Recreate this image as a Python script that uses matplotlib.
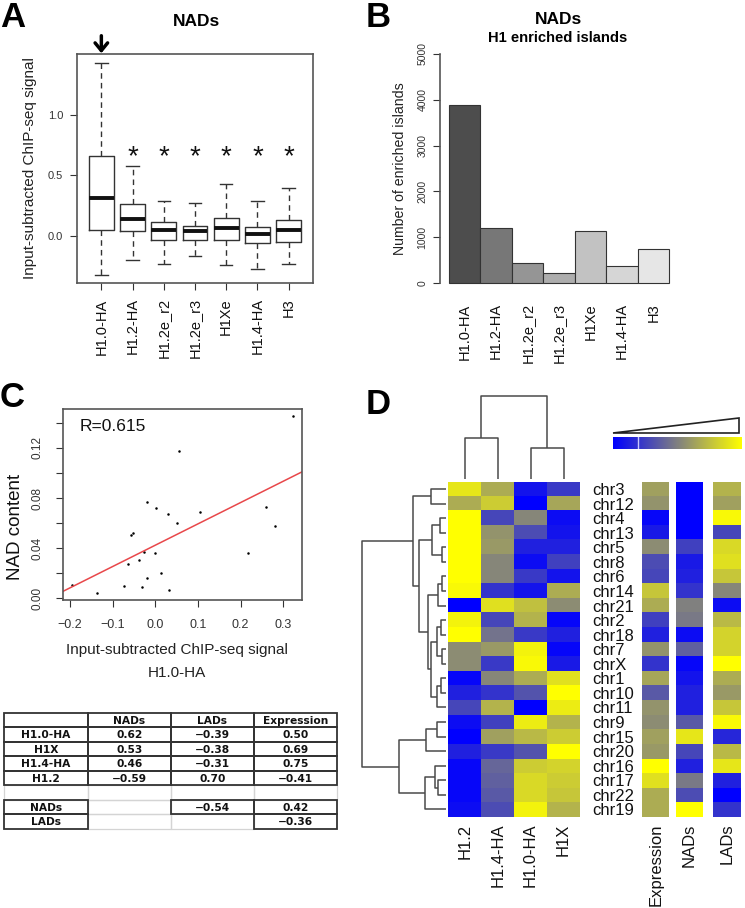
import numpy as np
import matplotlib
matplotlib.use('Agg')
import matplotlib.pyplot as plt
from matplotlib.colors import LinearSegmentedColormap
from matplotlib.patches import Rectangle, Polygon

plt.rcParams['font.family'] = ['Liberation Sans', 'DejaVu Sans']

W, H = 745, 908


def box(l, t, r, b):
    # pixel box -> figure fraction
    return [l / W, 1 - b / H, (r - l) / W, (b - t) / H]


def fx(x):
    return x / W


def fy(y):
    return 1 - y / H


# ---------------- data ----------------
samples = ['H1.0-HA', 'H1.2-HA', 'H1.2e_r2', 'H1.2e_r3', 'H1Xe', 'H1.4-HA', 'H3']
box_whislo = [-0.32, -0.20, -0.23, -0.17, -0.245, -0.275, -0.234]
box_q1 = [0.05, 0.04, -0.036, -0.036, -0.033, -0.063, -0.047]
box_med = [0.31, 0.143, 0.052, 0.036, 0.066, 0.019, 0.047]
box_q3 = [0.66, 0.26, 0.113, 0.085, 0.15, 0.077, 0.135]
box_whishi = [1.43, 0.58, 0.29, 0.27, 0.43, 0.287, 0.397]
significant = [False, True, True, True, True, True, True]

islands = [3880, 1200, 440, 220, 1130, 380, 750]
bar_colors = ['#4d4d4d', '#777777', '#959595', '#adadad', '#c2c2c2', '#d6d6d6', '#e6e6e6']

h10_signal = [-0.1945, -0.136, -0.0734, -0.065, -0.058, -0.0523, -0.039, -0.031,
              -0.0258, -0.0187, -0.0187, -0.0016, 0.0016, 0.0133, 0.0305, 0.0328,
              0.0516, 0.0547, 0.1055, 0.2164, 0.2594, 0.281, 0.3226]
nad_content = [0.0108, 0.0042, 0.010, 0.0274, 0.0503, 0.052, 0.031, 0.0092,
               0.0374, 0.0163, 0.0771, 0.0363, 0.0724, 0.020, 0.0676, 0.0066,
               0.060, 0.1176, 0.069, 0.0363, 0.0732, 0.0579, 0.1455]
r_value = 0.615

table_cols = ['', 'NADs', 'LADs', 'Expression']
table_rows = ['H1.0-HA', 'H1X', 'H1.4-HA', 'H1.2', '', 'NADs', 'LADs']
table_vals = [['0.62', '\u22120.39', '0.50'],
              ['0.53', '\u22120.38', '0.69'],
              ['0.46', '\u22120.31', '0.75'],
              ['\u22120.59', '0.70', '\u22120.41'],
              ['', '', ''],
              ['', '\u22120.54', '0.42'],
              ['', '', '\u22120.36']]

chroms = ['chr3', 'chr12', 'chr4', 'chr13', 'chr5', 'chr8', 'chr6', 'chr14', 'chr21',
          'chr2', 'chr18', 'chr7', 'chrX', 'chr1', 'chr10', 'chr11', 'chr9', 'chr15',
          'chr20', 'chr16', 'chr17', 'chr22', 'chr19']
heat_cols = ['H1.2', 'H1.4-HA', 'H1.0-HA', 'H1X']
h1_2 = [0.8, 0.35, 1.0, 1.0, 1.0, 1.0, 1.0, 0.95, -1.0, 0.9, 1.0, 0.1, 0.1,
        -0.95, -0.75, -0.45, -0.9, -1.0, -0.75, -0.95, -0.95, -0.95, -0.9]
h1_4 = [0.35, 0.6, -0.45, 0.15, 0.2, 0.05, 0.05, -0.6, 0.75, -0.45, -0.1, 0.2, -0.55,
        0.05, -0.6, 0.4, -0.5, 0.25, -0.55, -0.2, -0.25, -0.3, -0.4]
h1_0 = [-0.85, -1.0, 0.05, -0.4, -0.75, -0.9, -0.55, -0.85, 0.5, 0.4, -0.55, 0.9, 0.95,
        0.35, -0.35, -1.0, 0.85, 0.45, -0.35, 0.6, 0.7, 0.7, 0.9]
h1x = [-0.55, 0.3, -0.9, -0.85, -0.75, -0.5, -0.85, 0.35, 0.1, -0.95, -0.75, -0.95, -0.8,
       0.75, 1.0, 0.85, 0.4, 0.6, 1.0, 0.65, 0.6, 0.55, 0.4]
side_cols = ['Expression', 'NADs', 'LADs']
expression = [0.25, 0.15, -0.95, -0.8, 0.1, -0.4, -0.45, 0.55, 0.35, -0.5, -0.75, 0.15,
              -0.6, 0.3, -0.3, 0.15, 0.1, 0.25, 0.2, 1.0, 0.75, 0.35, 0.35]
nads = [-1.0, -1.0, -1.0, -1.0, -0.5, -0.8, -0.75, -0.6, 0.0, -0.05, -0.9, -0.25, -0.95,
        -0.85, -0.75, -0.75, -0.3, 0.8, -0.45, -0.75, -0.05, -0.4, 1.0]
lads = [0.4, 0.25, 0.95, -0.45, 0.7, 0.75, 0.55, 0.05, -0.9, 0.45, 0.65, 0.65, 1.0,
        0.35, 0.2, 0.55, 0.95, -0.7, 0.45, 0.8, -0.75, -1.0, -0.6]

# dendrograms: (left, right, merge height)
row_tree = (
    (('chr3', 'chr12', 15.3),
     ((('chr4', 'chr13', 6), ('chr5', 'chr8', 4.3), 14.3),
      ((('chr6', 'chr14', 4.3), 'chr21', 8.3),
       ((('chr2', 'chr18', 5), ('chr7', 'chrX', 4.3), 9.3),
        (('chr1', 'chr10', 5), 'chr11', 9.3), 15), 17.7), 27.5), 32.7),
    ((('chr9', 'chr15', 9.3), 'chr20', 20),
     (('chr16', ('chr17', 'chr22', 7.7), 11), 'chr19', 21), 47),
    83.7)
col_tree = (('H1.2', 'H1.4-HA', 41.3), ('H1.0-HA', 'H1X', 31.3), 83.3)

fig = plt.figure(figsize=(W / 100, H / 100), dpi=100)

line_c = '#333333'
tick_c = '#333333'

# ---------------- A: boxplot ----------------
axA = fig.add_axes(box(77, 54, 313, 283))
stats = []
for i in range(len(samples)):
    stats.append(dict(med=box_med[i], q1=box_q1[i], q3=box_q3[i],
                      whislo=box_whislo[i], whishi=box_whishi[i], fliers=[]))
axA.bxp(stats, positions=range(1, len(samples) + 1), widths=0.8, showfliers=False,
        capwidths=0.4,
        boxprops=dict(color=line_c, lw=1),
        whiskerprops=dict(color=line_c, lw=1, linestyle=(0, (4, 3))),
        capprops=dict(color=line_c, lw=1),
        medianprops=dict(color='#111111', lw=2.8, solid_capstyle='butt'))
axA.set_xlim(0.22, 7.78)
axA.set_ylim(-0.39, 1.504)
axA.set_yticks([0.0, 0.5, 1.0])
axA.set_yticklabels(['0.0', '0.5', '1.0'])
axA.set_xticks(range(1, len(samples) + 1))
axA.set_xticklabels(samples, rotation=90, fontsize=10.5)
axA.tick_params(axis='y', labelsize=8, colors=tick_c, length=5, pad=5)
axA.tick_params(axis='x', colors=tick_c, labelcolor='#111111', length=5, pad=6)
for s in axA.spines.values():
    s.set_color('#555555')
    s.set_linewidth(1.2)
axA.set_ylabel('Input-subtracted ChIP-seq signal', fontsize=11, labelpad=8, color='#222222')
fig.text(fx(196), fy(21), 'NADs', ha='center', va='center', fontsize=12.5, fontweight='bold')
for i, s in enumerate(significant):
    if s:
        axA.text(i + 1, 0.59, '*', ha='center', va='baseline', fontsize=20,
                 color='#111111')
axA.annotate('', xy=(1, 1.51), xytext=(1, 1.655), annotation_clip=False,
             arrowprops=dict(arrowstyle='->, head_length=0.55, head_width=0.45',
                             lw=2.5, color='black', shrinkA=0, shrinkB=0))

# ---------------- B: barplot ----------------
axB = fig.add_axes(box(440.2, 44.8, 677.8, 292.2))
axB.bar(np.arange(len(islands)), islands, width=1, align='edge', color=bar_colors,
        edgecolor='#333333', lw=0.8)
axB.set_xlim(-0.28, 7.28)
axB.set_ylim(-200, 5200)
axB.set_xticks(np.arange(len(islands)) + 0.5)
axB.set_xticklabels(samples, rotation=90, fontsize=10.5, color='#111111')
axB.tick_params(axis='x', length=0, pad=8)
axB.set_yticks(range(0, 5001, 1000))
axB.tick_params(axis='y', labelsize=7.5, colors=tick_c, length=5, pad=4)
for lab in axB.get_yticklabels():
    lab.set_rotation(90)
    lab.set_va('center')
for side in ['top', 'right', 'bottom']:
    axB.spines[side].set_visible(False)
axB.spines['left'].set_bounds(0, 5000)
axB.spines['left'].set_color('#555555')
axB.spines['left'].set_linewidth(1.2)
axB.set_ylabel('Number of enriched islands', fontsize=10.2, labelpad=8, color='#222222')
fig.text(fx(558), fy(20), 'NADs', ha='center', va='center', fontsize=12.5, fontweight='bold')
fig.text(fx(558), fy(38), 'H1 enriched islands', ha='center', va='center', fontsize=10.6,
         fontweight='bold')

# ---------------- C: scatter ----------------
axC = fig.add_axes(box(63, 409, 302, 600))
axC.plot(h10_signal, nad_content, 'o', ms=1.8, color='black', mew=0)
slope, icpt = np.polyfit(h10_signal, nad_content, 1)
axC.axline((0, icpt), slope=slope, color='#e8474a', lw=1.1)
axC.set_xlim(-0.2164, 0.344)
axC.set_ylim(-0.0012, 0.151)
axC.set_xticks([-0.2, -0.1, 0.0, 0.1, 0.2, 0.3])
axC.set_xticklabels(['\u22120.2', '\u22120.1', '0.0', '0.1', '0.2', '0.3'])
yt = np.arange(0, 0.141, 0.02)
axC.set_yticks(yt)
axC.set_yticklabels(['%.2f' % v if i % 2 == 0 else '' for i, v in enumerate(yt)])
axC.tick_params(axis='x', labelsize=9, colors=tick_c, length=5, pad=9)
axC.tick_params(axis='y', labelsize=8.5, colors=tick_c, length=5, pad=9)
for lab in axC.get_yticklabels():
    lab.set_rotation(90)
    lab.set_va('center')
for s in axC.spines.values():
    s.set_color('#555555')
    s.set_linewidth(1.2)
axC.text(0.07, 0.95, 'R=%.3f' % r_value, transform=axC.transAxes, fontsize=12.5,
         ha='left', va='top', color='#111111')
fig.text(fx(15.6), fy(527), 'NAD content', rotation=90, ha='center', va='center',
         fontsize=13.5, color='#111111')
fig.text(fx(177), fy(650), 'Input-subtracted ChIP-seq signal', ha='center', va='center',
         fontsize=11, color='#222222')
fig.text(fx(177), fy(673), 'H1.0-HA', ha='center', va='center', fontsize=11, color='#222222')

# ---------------- C: table ----------------
axT = fig.add_axes(box(4.3, 712.7, 337.3, 828.7))
axT.set_xlim(0, 4)
axT.set_ylim(8, 0)
axT.axis('off')
cells = []
for r in range(8):
    for c in range(4):
        if r == 0:
            txt = table_cols[c]
        elif c == 0:
            txt = table_rows[r - 1]
        else:
            txt = table_vals[r - 1][c - 1]
        blank_row = (r == 5)
        dark = (not blank_row) and (txt != '' or r <= 4 or c == 0)
        cells.append((r, c, txt, dark))
for r, c, txt, dark in sorted(cells, key=lambda t: t[3]):
    axT.add_patch(Rectangle((c, r), 1, 1, fill=False,
                            edgecolor='#333333' if dark else '#d4d4d4',
                            lw=1.3 if dark else 0.9, clip_on=False))
for r, c, txt, dark in cells:
    if txt:
        axT.text(c + 0.5, r + 0.55, txt, ha='center', va='center', fontsize=7.7,
                 fontweight='bold', family='DejaVu Sans', color='#111111')

# ---------------- D: heatmap ----------------
cmap = LinearSegmentedColormap.from_list('byg', ['#0000ff', '#808080', '#ffff00'])
top, bot = 481.7, 816.7
axH = fig.add_axes(box(448.3, top, 580, bot))
mat = np.array([h1_2, h1_4, h1_0, h1x]).T
axH.imshow(mat, cmap=cmap, vmin=-1, vmax=1, aspect='auto', interpolation='nearest')
axH.set_xticks(range(len(heat_cols)))
axH.set_xticklabels(heat_cols, rotation=90, fontsize=12, color='#111111')
axH.yaxis.tick_right()
axH.set_yticks(range(len(chroms)))
axH.set_yticklabels(chroms, fontsize=12, color='#111111')
axH.tick_params(axis='both', length=0)
axH.tick_params(axis='x', pad=5)
axH.tick_params(axis='y', pad=8.5)
for s in axH.spines.values():
    s.set_visible(False)

for name, vals, (l, r) in zip(side_cols, [expression, nads, lads],
                              [(642.3, 669), (676, 702.7), (713.3, 740.7)]):
    axs = fig.add_axes(box(l, top, r, bot))
    axs.imshow(np.array(vals)[:, None], cmap=cmap, vmin=-1, vmax=1, aspect='auto',
               interpolation='nearest')
    axs.set_yticks([])
    axs.set_xticks([0])
    axs.set_xticklabels([name], rotation=90, fontsize=12, color='#111111')
    axs.tick_params(axis='x', length=0, pad=5)
    for s in axs.spines.values():
        s.set_visible(False)


def draw_tree(ax, node, pos, horizontal):
    if isinstance(node, str):
        return pos[node], 0.0
    left, right, h = node
    cl, hl = draw_tree(ax, left, pos, horizontal)
    cr, hr = draw_tree(ax, right, pos, horizontal)
    hs = [hl, h, h, hr]
    cs = [cl, cl, cr, cr]
    if horizontal:
        ax.plot(hs, cs, color='#4a4a4a', lw=1.1, solid_capstyle='butt', clip_on=False)
    else:
        ax.plot(cs, hs, color='#4a4a4a', lw=1.1, solid_capstyle='butt', clip_on=False)
    return (cl + cr) / 2, h


axRD = fig.add_axes(box(358, top, 446, bot))
draw_tree(axRD, row_tree, {c: i for i, c in enumerate(chroms)}, True)
axRD.set_xlim(88, 0)
axRD.set_ylim(len(chroms) - 0.5, -0.5)
axRD.axis('off')

axCD = fig.add_axes(box(448.3, 393, 580, 479.3))
draw_tree(axCD, col_tree, {c: i for i, c in enumerate(heat_cols)}, False)
axCD.set_xlim(-0.5, len(heat_cols) - 0.5)
axCD.set_ylim(0, 86.3)
axCD.axis('off')

# colour key
axK = fig.add_axes(box(612.7, 437, 741, 449.3))
axK.imshow(np.linspace(-1, 1, 256)[None, :], cmap=cmap, vmin=-1, vmax=1, aspect='auto',
           extent=(0, 1, 0, 1))
axK.axvline(0.195, color='#c8c8ff', lw=1)
axK.axis('off')
axW = fig.add_axes(box(613.3, 418.3, 738.5, 432.7))
axW.add_patch(Polygon([(0, 0), (1, 0), (1, 1)], closed=True, facecolor='white',
                      edgecolor='#222222', lw=1.2, clip_on=False))
axW.set_xlim(0, 1)
axW.set_ylim(0, 1)
axW.axis('off')

# panel letters
for letter, x, y in [('A', 0, 1), ('B', 366, 1), ('C', 0, 381), ('D', 366, 388)]:
    fig.text(fx(x), fy(y), letter, ha='left', va='top', fontsize=25, fontweight='bold')

fig.savefig('out.png', dpi=100)
